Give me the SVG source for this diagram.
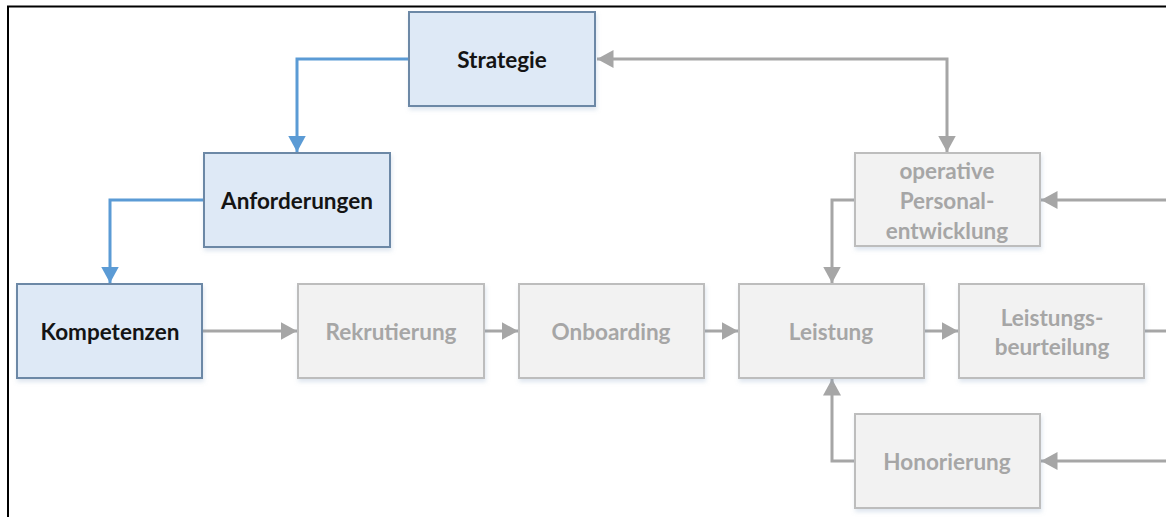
<svg xmlns="http://www.w3.org/2000/svg" width="1166" height="517" viewBox="0 0 1166 517">
  <style>
    .blue rect { fill: #dee9f6; stroke: #6c88a6; stroke-width: 2; }
    .grey rect { fill: #f2f2f2; stroke: #bdbdbd; stroke-width: 2; }
    text { font-family: "Lato", "Liberation Sans", sans-serif; font-weight: bold; font-size: 22.5px; text-anchor: middle; dominant-baseline: central; }
    .blue text { fill: #141414; }
    .grey text { fill: #a6a6a6; }
    .cb { fill: none; stroke: #5b9bd5; stroke-width: 3; }
    .cg { fill: none; stroke: #a6a6a6; stroke-width: 3; }
  </style>
  <defs>
    <filter id="shadow" x="-10%" y="-10%" width="125%" height="130%">
      <feDropShadow dx="1" dy="3" stdDeviation="2" flood-color="#7a9cc0" flood-opacity="0.25"/>
    </filter>
    <marker id="ab" viewBox="0 0 10 10" refX="10" refY="5" markerWidth="5.5" markerHeight="6" markerUnits="strokeWidth" orient="auto" preserveAspectRatio="none">
      <path d="M0,0 L10,5 L0,10 Z" fill="#5b9bd5"/>
    </marker>
    <marker id="ag" viewBox="0 0 10 10" refX="10" refY="5" markerWidth="5.5" markerHeight="6" markerUnits="strokeWidth" orient="auto-start-reverse" preserveAspectRatio="none">
      <path d="M0,0 L10,5 L0,10 Z" fill="#a6a6a6"/>
    </marker>
  </defs>

  <rect x="0" y="0" width="1166" height="517" fill="#ffffff"/>
  <!-- page frame -->
  <path d="M8,517 V6.5 H1166" fill="none" stroke="#000" stroke-width="2"/>

  <g id="connectors">
    <path class="cb" d="M409,59 H297 V152" marker-end="url(#ab)"/>
    <path class="cb" d="M204,200 H110 V283" marker-end="url(#ab)"/>
    <path class="cg" d="M202,331 H297" marker-end="url(#ag)"/>
    <path class="cg" d="M484,331 H518" marker-end="url(#ag)"/>
    <path class="cg" d="M704,331 H738" marker-end="url(#ag)"/>
    <path class="cg" d="M924,331 H958" marker-end="url(#ag)"/>
    <path class="cg" d="M1144,331 H1166"/>
    <path class="cg" d="M1166,200 H1041" marker-end="url(#ag)"/>
    <path class="cg" d="M1166,461 H1041" marker-end="url(#ag)"/>
    <path class="cg" d="M855,200 H832 V283" marker-end="url(#ag)"/>
    <path class="cg" d="M855,461 H832 V379" marker-end="url(#ag)"/>
    <path class="cg" d="M597,59 H947 V152" marker-start="url(#ag)" marker-end="url(#ag)"/>
  </g>

  <g id="strategie" class="blue">
    <rect x="409" y="12" width="186" height="94" filter="url(#shadow)"/>
    <text x="502" y="59">Strategie</text>
  </g>
  <g id="anforderungen" class="blue">
    <rect x="204" y="153" width="186" height="94" filter="url(#shadow)"/>
    <text x="297" y="200">Anforderungen</text>
  </g>
  <g id="kompetenzen" class="blue">
    <rect x="17" y="284" width="185" height="94" filter="url(#shadow)"/>
    <text x="110" y="331">Kompetenzen</text>
  </g>
  <g id="rekrutierung" class="grey">
    <rect x="298" y="284" width="186" height="94" filter="url(#shadow)"/>
    <text x="391" y="331">Rekrutierung</text>
  </g>
  <g id="onboarding" class="grey">
    <rect x="519" y="284" width="185" height="94" filter="url(#shadow)"/>
    <text x="611" y="331">Onboarding</text>
  </g>
  <g id="leistung" class="grey">
    <rect x="739" y="284" width="185" height="94" filter="url(#shadow)"/>
    <text x="831" y="331">Leistung</text>
  </g>
  <g id="leistungsbeurteilung" class="grey">
    <rect x="959" y="284" width="185" height="94" filter="url(#shadow)"/>
    <text x="1052" y="317">Leistungs-</text>
    <text x="1052" y="346">beurteilung</text>
  </g>
  <g id="personalentwicklung" class="grey">
    <rect x="855" y="153" width="185" height="93" filter="url(#shadow)"/>
    <text x="947" y="170">operative</text>
    <text x="947" y="200">Personal-</text>
    <text x="947" y="230">entwicklung</text>
  </g>
  <g id="honorierung" class="grey">
    <rect x="855" y="414" width="185" height="94" filter="url(#shadow)"/>
    <text x="947" y="461">Honorierung</text>
  </g>
</svg>
